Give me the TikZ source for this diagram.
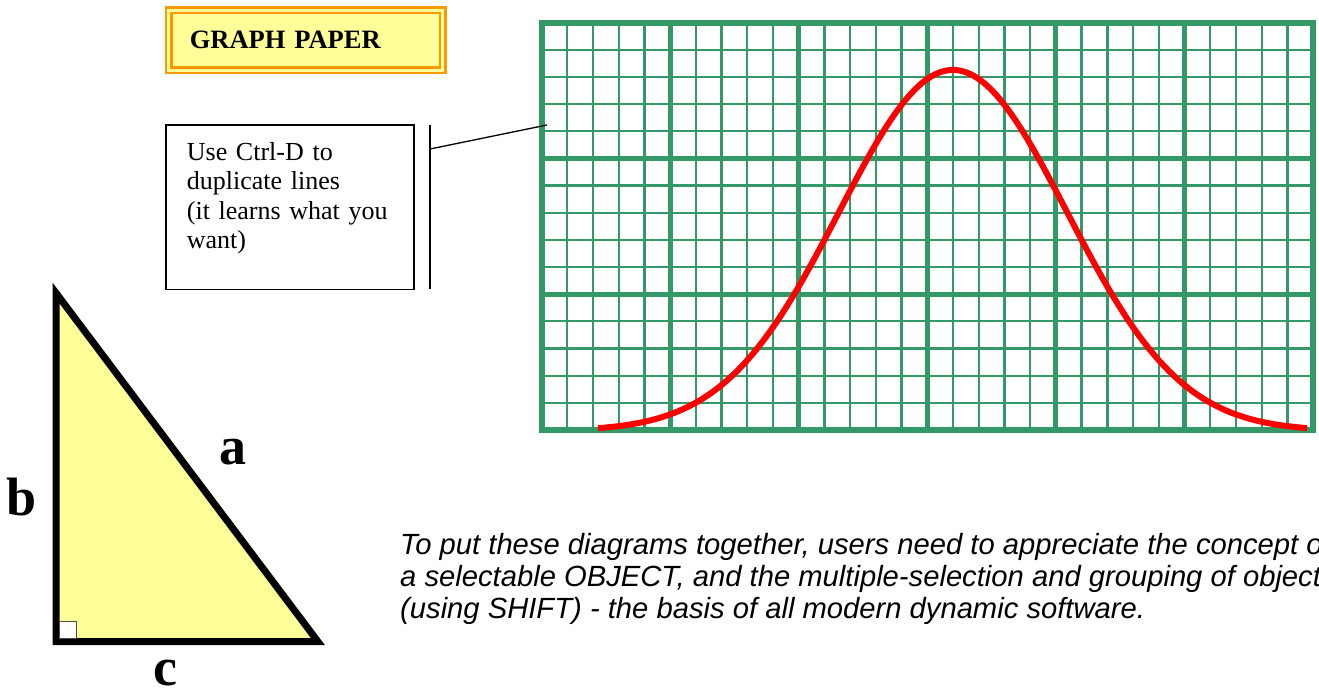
\documentclass[tikz,border=0pt]{standalone}
\usepackage{fontspec}
\setmainfont{Liberation Serif}
\newfontfamily\notefont{Liberation Sans}
\usepackage{xcolor}
\usepackage{tikz}
\usetikzlibrary{positioning}
\definecolor{seagreen}{RGB}{51,153,102}
\definecolor{paleyellow}{RGB}{255,255,153}
\definecolor{amber}{RGB}{255,153,0}

\begin{document}
\begin{tikzpicture}[x=1pt,y=-1pt,
  minor/.style={seagreen,line width=2.3pt},
  major/.style={seagreen,line width=5pt},
  titlebox/.style={draw=amber,line width=2.5pt,double=paleyellow,double distance=2.7pt,
            fill=paleyellow,minimum width=274pt,minimum height=60pt,inner xsep=21pt,
            text width=232pt,align=left,font=\fontsize{26.5pt}{28pt}\selectfont\bfseries},
  notebox/.style={draw,line width=1.3pt,minimum width=248pt,minimum height=164.3pt,inner sep=0pt},
  notetext/.style={anchor=north west,inner sep=0pt,text width=215pt,align=left,
            font=\fontsize{26pt}{29.5pt}\selectfont},
  side/.style={font=\fontsize{54pt}{54pt}\selectfont\bfseries,inner sep=0pt},
  caption/.style={anchor=north west,inner sep=0pt,align=left,
            font=\notefont\itshape\fontsize{29.2pt}{32pt}\selectfont},
  bell/.style={red,line width=6pt}]
  \clip (0,0) rectangle (1319,692);
  % graph paper
  \foreach \i in {0,...,30} \draw[minor] ({541.5+\i*25.72},22.7) -- ++(0,407.3);
  \foreach \j in {0,...,15} \draw[minor] (541.5,{22.7+\j*27.15}) -- ++(771.6,0);
  \foreach \i in {1,...,5} \draw[major] ({541.5+\i*128.6},22.7) -- ++(0,407.3);
  \foreach \j in {1,2} \draw[major] (541.5,{22.7+\j*135.77}) -- ++(771.6,0);
  \draw[major,line width=6pt] (541.5,22.7) rectangle (1313.1,430);
  \draw[bell] plot[domain=598:1307,samples=140,smooth]
    (\x,{431-361*exp(-0.5*((\x-953)/114)^2)});
  % title and callout
  \node[titlebox] (title) at (305.8,40.3) {GRAPH PAPER};
  \node[notebox] (note) at (290,207.2) {};
  \node[notetext] (notetxt) at (186.7,142) {Use Ctrl-D to\\duplicate lines\\(it learns what you\\want)};
  \coordinate (bartop) at (430,125);
  \coordinate (barend) at (430,289.3);
  \coordinate (lead) at (430,149);
  \coordinate (target) at (547,125);
  \draw[line width=1.3pt] (bartop) -- (barend);
  \draw[line width=1.3pt] (lead) -- (target);
  % triangle
  \draw[line width=7pt,fill=paleyellow,miter limit=10] (56,293) -- (56,641.7) -- (318,641.7) -- cycle;
  \draw[black!70,line width=0.8pt,fill=white] (59.5,621.7) rectangle (76.7,638.3);
  \node[side] (sa) at (233,452) {a};
  \node[side] (sb) at (22,497) {b};
  \node[side] (sc) at (165,673) {c};
  % remark
  \node[caption] (remark) at (400,533) {To put these diagrams together, users need to appreciate the concept of\\
    a selectable OBJECT, and the multiple-selection and grouping of objects\\
    (using SHIFT) - the basis of all modern dynamic software.};
\end{tikzpicture}
\end{document}
